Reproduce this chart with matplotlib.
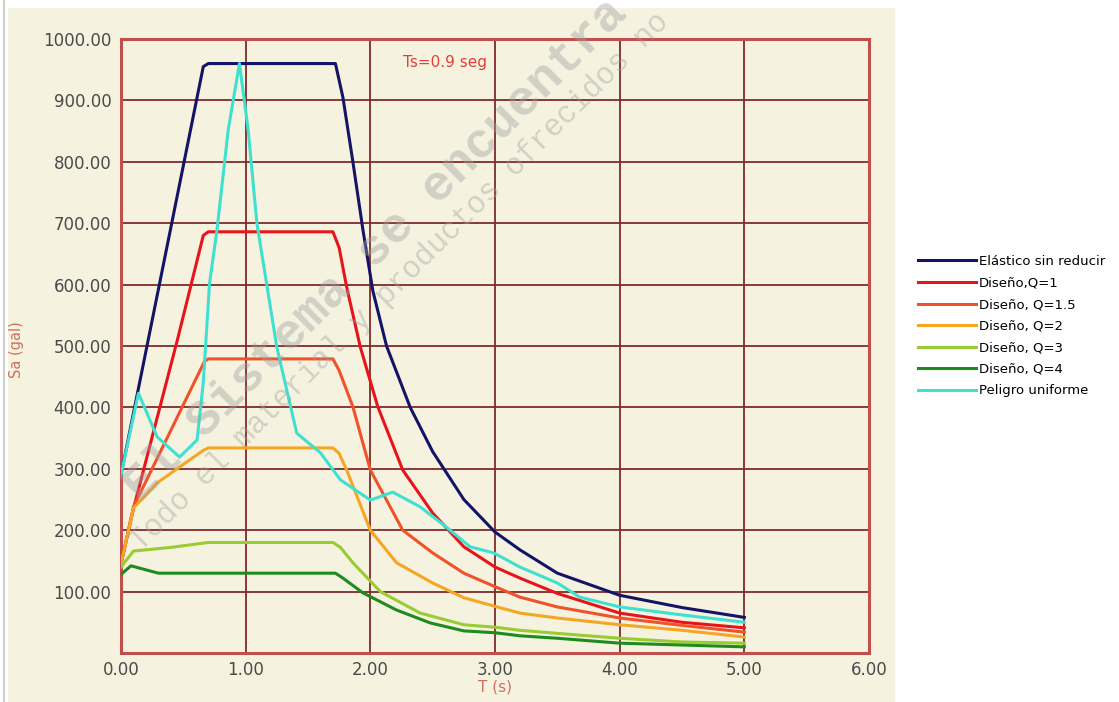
import matplotlib.pyplot as plt
from matplotlib.patches import Rectangle
from matplotlib.lines import Line2D

# periodos (s) y aceleraciones espectrales (gal)
t_elas = [0, 0.66, 0.70, 1.72, 1.78, 1.86, 1.94, 2.02, 2.13, 2.32, 2.5, 2.75, 3.0, 3.2, 3.5, 4.0, 4.5, 5.0]
sa_elas = [290, 955, 960, 960, 905, 800, 690, 590, 500, 400, 328, 250, 197, 168, 130, 94, 74, 58]

t_q1 = [0, 0.1, 0.45, 0.66, 0.70, 1.70, 1.75, 1.81, 1.92, 2.06, 2.26, 2.5, 2.75, 3.0, 3.2, 3.5, 4.0, 4.5, 5.0]
sa_q1 = [145, 235, 508, 680, 686, 686, 660, 596, 498, 401, 298, 228, 173, 140, 122, 97, 65, 50, 41]

t_q15 = [0, 0.1, 0.67, 0.70, 1.70, 1.75, 1.86, 2.0, 2.26, 2.5, 2.75, 3.0, 3.2, 3.5, 4.0, 4.5, 5.0]
sa_q15 = [145, 238, 475, 479, 479, 460, 401, 298, 200, 163, 130, 108, 91, 75, 57, 45, 34]

t_q2 = [0, 0.1, 0.29, 0.47, 0.66, 0.70, 1.70, 1.75, 1.81, 2.0, 2.21, 2.5, 2.75, 3.0, 3.2, 3.5, 4.0, 4.5, 5.0]
sa_q2 = [145, 236, 277, 303, 330, 334, 334, 325, 298, 200, 147, 114, 90, 76, 65, 57, 46, 37, 26]

t_q3 = [0, 0.1, 0.4, 0.7, 1.70, 1.76, 1.86, 2.08, 2.4, 2.75, 3.0, 3.2, 3.5, 4.0, 4.5, 5.0]
sa_q3 = [140, 166, 172, 180, 180, 172, 147, 100, 65, 46, 42, 37, 32, 24, 18, 16]

t_q4 = [0, 0.08, 0.3, 1.72, 1.78, 1.94, 2.21, 2.48, 2.75, 3.0, 3.2, 3.5, 4.0, 4.5, 5.0]
sa_q4 = [128, 142, 130, 130, 122, 98, 70, 49, 36, 33, 28, 24, 16, 13, 10]

t_pel = [0, 0.14, 0.29, 0.47, 0.61, 0.66, 0.71, 0.77, 0.86, 0.95, 1.02, 1.09, 1.25, 1.41,
         1.6, 1.76, 2.0, 2.18, 2.4, 2.61, 2.8, 2.99, 3.2, 3.5, 3.68, 4.0, 4.5, 5.0]
sa_pel = [290, 423, 352, 319, 347, 440, 602, 689, 852, 960, 852, 700, 498, 358,
          326, 282, 249, 262, 238, 205, 173, 163, 140, 114, 91, 75, 62, 50]

etiquetas = ['Elástico sin reducir', 'Diseño,Q=1', 'Diseño, Q=1.5', 'Diseño, Q=2',
             'Diseño, Q=3', 'Diseño, Q=4', 'Peligro uniforme']
colores = ['#141466', '#E8141B', '#F0522A', '#F5A623', '#99CC33', '#1E8B1E', '#40E0D0']

x_ticks = [0, 1, 2, 3, 4, 5, 6]
y_ticks = [100, 200, 300, 400, 500, 600, 700, 800, 900, 1000]

fondo = '#F5F3E0'
rejilla = '#7E2B2B'

fig = plt.figure(figsize=(11.19, 7.02), dpi=100, facecolor='white')

# panel beige del control
fig.patches.append(Rectangle((8/1119, 0), (895-8)/1119, (702-8)/702,
                             transform=fig.transFigure, facecolor=fondo, edgecolor='none', zorder=-5))
fig.add_artist(Line2D([4/1119, 4/1119], [0, 1], transform=fig.transFigure, color='#D0D0D0', lw=1.5, zorder=-4))

ax = fig.add_axes([121/1119, 49/702, 748/1119, 614/702])
ax.set_zorder(2)
ax.set_facecolor(fondo)

series = [(t_elas, sa_elas), (t_q1, sa_q1), (t_q15, sa_q15), (t_q2, sa_q2),
          (t_q3, sa_q3), (t_q4, sa_q4), (t_pel, sa_pel)]
for (t, sa), c, lab in zip(series, colores, etiquetas):
    ax.plot(t, sa, color=c, lw=2.2, label=lab, solid_joinstyle='round', zorder=3)

ax.set_xlim(0, 6)
ax.set_ylim(0, 1000)
ax.set_xticks(x_ticks)
ax.set_yticks(y_ticks)
ax.set_xticklabels(['%.2f' % v for v in x_ticks])
ax.set_yticklabels(['%.2f' % v for v in y_ticks])
ax.tick_params(length=0, labelsize=12, labelcolor='#4A4A4A')
ax.tick_params(axis='y', pad=7)
ax.tick_params(axis='x', pad=6)
ax.grid(True, color=rejilla, lw=1.3, zorder=1)
ax.set_axisbelow(True)
for s in ax.spines.values():
    s.set_color('#C0504D')
    s.set_linewidth(2.2)

ax.set_xlabel('T (s)', color='#D07060', fontsize=11, labelpad=0)
fig.text(17/1119, 1 - 350/702, 'Sa (gal)', rotation=90, color='#D07060', fontsize=10.5,
         ha='center', va='center')

ax.text(403/1119, 1 - 62/702, 'Ts=0.9 seg', transform=fig.transFigure, color='#E0403A',
        fontsize=11, ha='left', va='center')

# marca de agua
fig.text(376/1119, 1 - 250/702, 'El Sistema se encuentra', family='Liberation Mono',
         weight='bold', fontsize=36, color='#A0A0A0', alpha=0.42, rotation=45,
         rotation_mode='anchor', ha='center', va='center', zorder=10)
fig.text(400/1119, 1 - 282/702, 'Todo el material y productos ofrecidos no', family='Liberation Mono',
         fontsize=22, color='#A0A0A0', alpha=0.42, rotation=45,
         rotation_mode='anchor', ha='center', va='center', zorder=10)

fig.legend(loc='upper left', bbox_to_anchor=(918/1119, 1 - 255/702), frameon=False,
           fontsize=9.5, handlelength=4.4, handletextpad=0.2, labelspacing=0.65,
           borderpad=0, borderaxespad=0)

fig.savefig('out.png', dpi=100, facecolor='white')
